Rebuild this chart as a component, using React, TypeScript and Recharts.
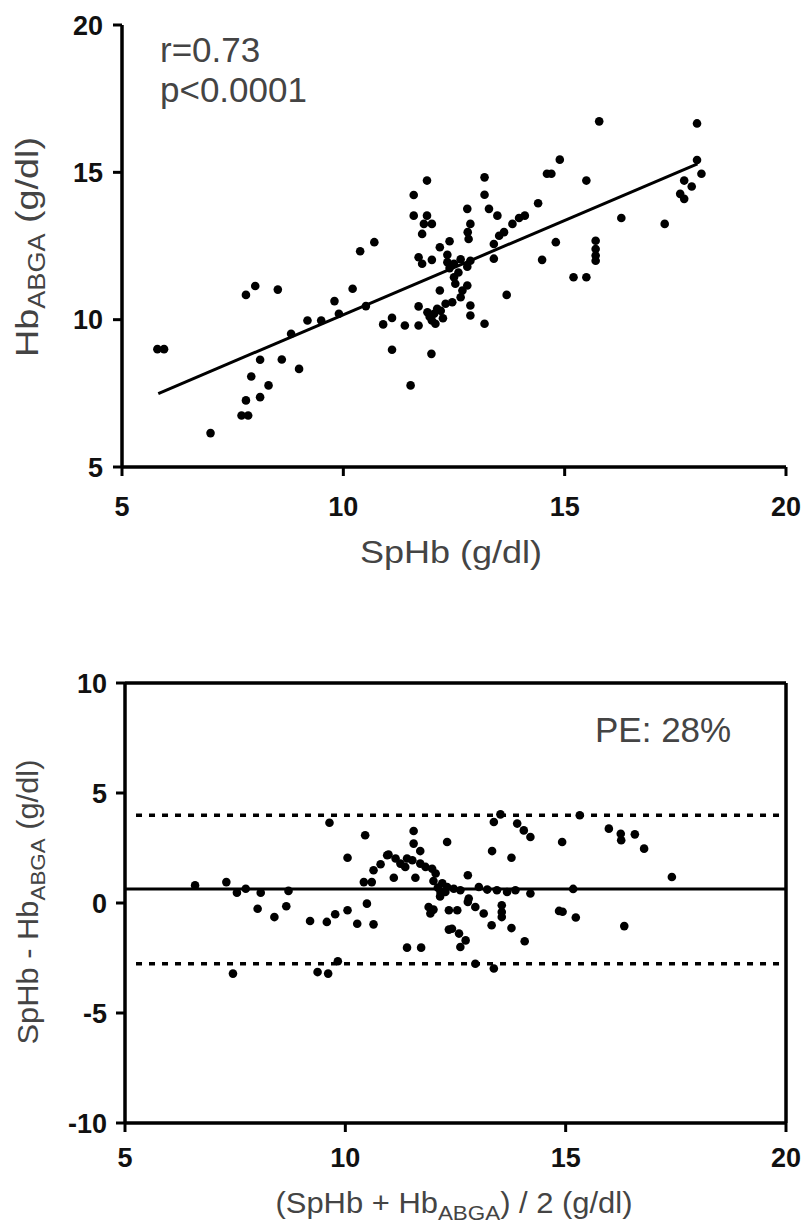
import { ScatterChart, Scatter, XAxis, YAxis, ReferenceLine, Label } from "recharts";

// SpHb vs Hb(ABGA)
const SPHB = [
  5.8, 5.95, 7.0, 7.7, 7.85, 7.8, 8.12, 7.92, 8.31, 8.12, 8.61, 9.0, 7.8, 8.01, 8.52, 8.82, 9.19, 9.5,
  9.8, 9.9, 10.21, 10.51, 10.38, 10.7, 10.9, 11.1, 11.1, 11.39, 11.7, 11.7, 11.52, 11.99, 11.59, 11.89,
  11.59, 11.89, 11.82, 12.0, 11.78, 11.7, 11.78, 12.0, 12.18, 12.4, 12.35, 12.18, 12.05, 12.0, 12.08,
  12.12, 12.31, 12.46, 12.65, 12.69, 12.8, 12.53, 12.5, 12.5, 12.65, 12.8, 12.87, 12.4, 12.87, 12.87,
  13.19, 12.8, 12.87, 12.81, 12.83, 13.19, 13.19, 13.29, 13.48, 13.4, 13.4, 13.52, 13.63, 13.82, 13.97,
  14.1, 14.4, 14.6, 14.7, 14.89, 14.8, 14.49, 13.69, 15.49, 15.78, 15.7, 15.7, 15.7, 15.7, 15.2, 15.49,
  16.28, 17.26, 17.7, 17.87, 17.61, 17.7, 17.99, 17.99, 18.09, 11.95, 12.2, 12.25, 11.9, 12.6, 12.35,
];
const HB_ABGA = [
  9.0, 9.0, 6.15, 6.75, 6.75, 7.26, 7.37, 8.07, 7.77, 8.64, 8.65, 8.33, 10.84, 11.14, 11.02, 9.52, 9.97, 9.97,
  10.63, 10.2, 11.05, 10.46, 12.32, 12.63, 9.84, 10.06, 8.98, 9.8, 9.8, 10.45, 7.77, 8.84, 14.23, 14.72,
  13.53, 13.53, 13.25, 13.25, 12.91, 12.12, 11.9, 12.03, 12.46, 12.66, 11.95, 10.99, 10.2, 9.97, 9.86,
  10.37, 10.54, 10.59, 10.76, 10.99, 11.16, 11.22, 11.44, 11.9, 12.05, 11.8, 12.0, 11.75, 10.48, 10.14,
  9.86, 13.76, 13.25, 12.97, 12.74, 14.83, 14.24, 13.76, 13.53, 12.57, 12.07, 12.85, 12.97, 13.25, 13.45,
  13.53, 13.95, 14.95, 14.95, 15.43, 12.63, 12.03, 10.84, 14.72, 16.73, 12.68, 12.4, 12.18, 12.0, 11.44, 11.44,
  13.45, 13.25, 14.72, 14.52, 14.27, 14.1, 16.66, 15.42, 14.95, 10.1, 10.3, 10.05, 10.25, 11.6, 12.2,
];
// regression line end points
const FIT_X = [5.82, 18.0];
const FIT_Y = [7.49, 15.29];

// Bland-Altman: mean of both methods vs difference
const MEAN_HB = [
  6.59, 7.3, 7.45, 7.54, 7.74, 8.08, 8.01, 8.39, 8.66, 8.71, 9.2, 9.37, 9.61, 9.83, 9.64, 9.58, 9.77, 10.05,
  10.05, 10.27, 10.45, 10.42, 10.6, 10.49, 10.64, 10.64, 10.8, 10.98, 11.14, 11.1, 11.25, 11.36, 11.52,
  11.7, 11.82, 11.97, 11.55, 11.55, 11.7, 11.59, 11.4, 11.72, 11.89, 11.93, 12.31, 12.27, 12.35, 12.35,
  13.37, 13.52, 13.9, 14.05, 14.2, 13.33, 13.77, 14.92, 15.32, 15.98, 16.25, 16.26, 16.57, 16.78, 17.41,
  16.33, 15.17, 15.23, 14.85, 14.93, 14.07, 13.77, 13.32, 13.55, 13.55, 13.55, 12.78, 12.95, 13.37, 12.42,
  12.58, 12.73, 12.61, 12.0, 12.54, 12.8, 12.95, 13.14, 12.16, 12.31, 12.46, 12.61, 13.03, 13.22, 13.44,
  13.67, 13.86, 14.2, 10.95, 11.4, 12.05, 12.15, 12.2, 11.95, 12.0, 12.1, 12.78,
];
const DIFF_HB = [
  0.8, 0.95, -3.21, 0.47, 0.65, 0.47, -0.26, -0.64, -0.15, 0.55, -0.82, -3.14, -3.21, -2.65, 3.65, -0.86, -0.51, 2.06,
  -0.33, -0.94, 3.08, 0.95, 0.95, -0.03, -0.97, 1.49, 1.76, 2.2, 2.02, 1.15, 1.79, 1.64, 1.94,
  1.79, 1.64, 1.56, 3.27, 2.7, 2.36, 1.15, -2.03, -2.03, -0.18, -0.48, 2.77, 0.5, -0.33, -1.21,
  3.68, 4.03, 3.61, 3.3, 3.0, 2.36, 2.06, 2.77, 3.99, 3.38, 3.15, 2.85, 3.12, 2.47, 1.18,
  -1.05, 0.64, -0.66, -0.36, -0.4, -1.74, -1.14, -1.01, -0.1, -0.41, -0.64, 1.26, -2.76, -2.98, -1.17,
  -1.39, -1.7, -2.0, -0.3, -0.33, 0.2, -0.18, -0.48, 0.5, 0.73, 0.65, 0.58, 0.73, 0.61, 0.58,
  0.5, 0.58, 0.43, 2.17, 2.02, 1.34, 0.3, 0.9, -0.35, 1.0, 0.7, 0.05,
];
const BIAS = 0.64;
const LOA = [3.99, -2.76];
const LOA_RANGE = [5.25, 19.85];

const TICKS_X = [5, 10, 15, 20];
const TICKS_TOP_Y = [5, 10, 15, 20];
const TICKS_BOTTOM_Y = [-10, -5, 0, 5, 10];

const corrData = SPHB.map((x, i) => ({ x, y: HB_ABGA[i] }));
const baData = MEAN_HB.map((x, i) => ({ x, y: DIFF_HB[i] }));

const FONT = "'Liberation Sans', Arial, Helvetica, sans-serif";
const axisLine = { stroke: "#000", strokeWidth: 3.5 };
const tickLine = { stroke: "#000", strokeWidth: 3 };
const tickStyle = { fill: "#111", fontSize: 27, fontFamily: FONT, fontWeight: "bold" as const };

const Dot = (props: any) => <circle cx={props.cx} cy={props.cy} r={4.3} fill="#000" />;

export default function App() {
  return (
    <div style={{ position: "absolute", left: 0, top: 0, width: 806, height: 1226, background: "#fff" }}>
      <div style={{ position: "absolute", left: 0, top: 0 }}>
        <ScatterChart width={806} height={620} margin={{ top: 25, right: 20, bottom: 93, left: 52 }}>
          <XAxis
            type="number"
            dataKey="x"
            domain={[5, 20]}
            ticks={TICKS_X}
            height={60}
            axisLine={axisLine}
            tickLine={tickLine}
            tickSize={9}
            tickMargin={21}
            tick={tickStyle}
          >
            <Label
              content={() => (
                <text x={451} y={563} textAnchor="middle" fontSize={32} fontFamily={FONT} fill="#444" textLength={182} lengthAdjust="spacingAndGlyphs">
                  SpHb (g/dl)
                </text>
              )}
            />
          </XAxis>
          <YAxis
            type="number"
            dataKey="y"
            domain={[5, 20]}
            ticks={TICKS_TOP_Y}
            width={70}
            axisLine={axisLine}
            tickLine={tickLine}
            tickSize={9}
            tickMargin={10}
            tick={tickStyle}
          >
            <Label
              content={() => (
                <g fontFamily={FONT}>
                  <text transform="rotate(-90 38 247)" x={38} y={247} textAnchor="middle" fontSize={32} fill="#444" textLength={220} lengthAdjust="spacingAndGlyphs">
                    Hb
                    <tspan fontSize={23} dy={7}>ABGA</tspan>
                    <tspan dy={-7}> (g/dl)</tspan>
                  </text>
                  <text x={160} y={62} fontSize={35} fill="#444">r=0.73</text>
                  <text x={160} y={102} fontSize={35} fill="#444">p&lt;0.0001</text>
                </g>
              )}
            />
          </YAxis>
          <ReferenceLine
            segment={[{ x: FIT_X[0], y: FIT_Y[0] }, { x: FIT_X[1], y: FIT_Y[1] }]}
            stroke="#000"
            strokeWidth={3}
          />
          <Scatter data={corrData} shape={Dot} isAnimationActive={false} />
        </ScatterChart>
      </div>

      <div style={{ position: "absolute", left: 0, top: 620 }}>
        <ScatterChart width={806} height={606} margin={{ top: 63, right: 20, bottom: 53, left: 55 }}>
          <XAxis
            type="number"
            dataKey="x"
            domain={[5, 20]}
            ticks={TICKS_X}
            height={50}
            axisLine={axisLine}
            tickLine={tickLine}
            tickSize={9}
            tickMargin={16}
            tick={tickStyle}
          >
            <Label
              content={() => (
                <text x={454} y={593} textAnchor="middle" fontSize={29} fontFamily={FONT} fill="#444" textLength={357} lengthAdjust="spacingAndGlyphs">
                  (SpHb + Hb
                  <tspan fontSize={21} dy={7}>ABGA</tspan>
                  <tspan dy={-7}>) / 2 (g/dl)</tspan>
                </text>
              )}
            />
          </XAxis>
          <YAxis
            type="number"
            dataKey="y"
            domain={[-10, 10]}
            ticks={TICKS_BOTTOM_Y}
            width={70}
            axisLine={axisLine}
            tickLine={tickLine}
            tickSize={9}
            tickMargin={9}
            tick={tickStyle}
          >
            <Label
              content={() => (
                <g fontFamily={FONT}>
                  <text transform="rotate(-90 38 282)" x={38} y={282} textAnchor="middle" fontSize={29} fill="#444" textLength={285} lengthAdjust="spacingAndGlyphs">
                    SpHb - Hb
                    <tspan fontSize={21} dy={7}>ABGA</tspan>
                    <tspan dy={-7}> (g/dl)</tspan>
                  </text>
                  <text x={595} y={122} fontSize={35} fill="#444">PE: 28%</text>
                </g>
              )}
            />
          </YAxis>
          <ReferenceLine y={10} stroke="#000" strokeWidth={3.5} />
          <ReferenceLine x={20} stroke="#000" strokeWidth={3.5} />
          <ReferenceLine y={BIAS} stroke="#000" strokeWidth={3} />
          {LOA.map((v) => (
            <ReferenceLine
              key={v}
              segment={[{ x: LOA_RANGE[0], y: v }, { x: LOA_RANGE[1], y: v }]}
              stroke="#000"
              strokeWidth={3.5}
              strokeDasharray="6 7"
            />
          ))}
          <Scatter data={baData} shape={Dot} isAnimationActive={false} />
        </ScatterChart>
      </div>
    </div>
  );
}
